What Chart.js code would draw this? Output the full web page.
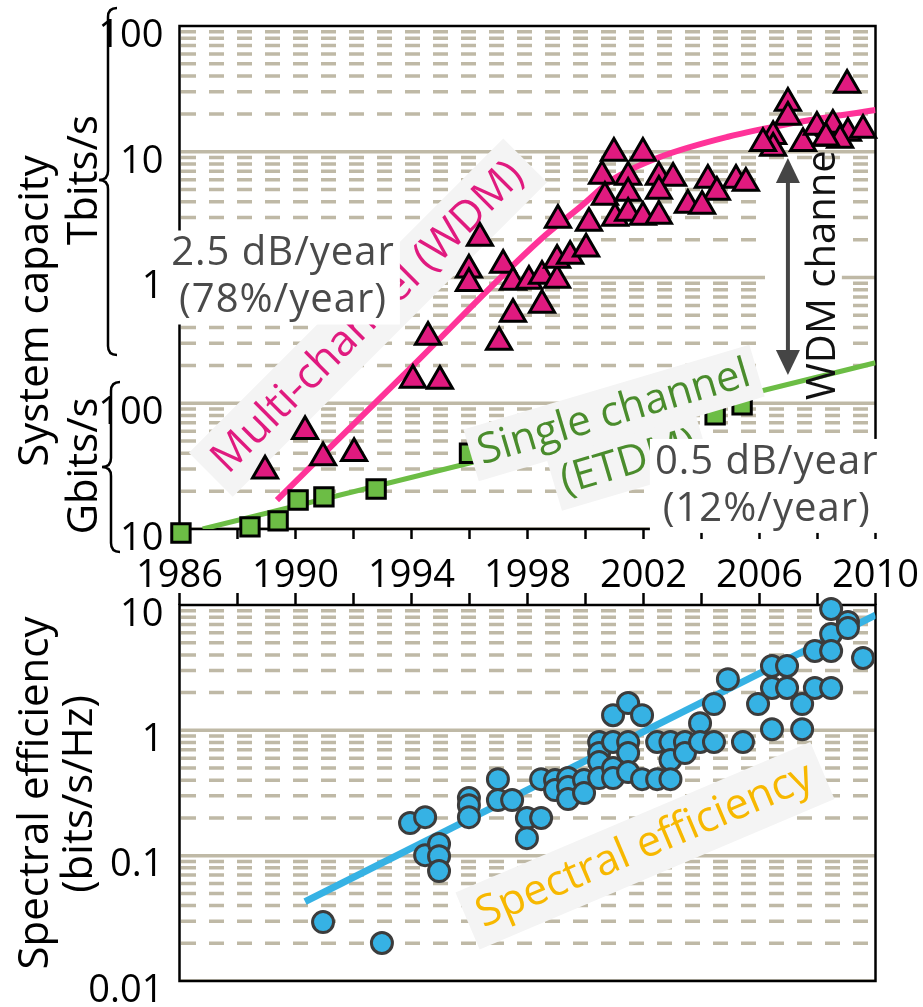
<!DOCTYPE html>
<html>
<head>
<meta charset="utf-8">
<title>Optical transmission capacity and spectral efficiency</title>
<script src="https://cdn.jsdelivr.net/npm/chart.js@4.4.0/dist/chart.umd.min.js"></script>
<style>
  html, body { margin: 0; padding: 0; background: #fff; }
  #wrap { position: relative; width: 923px; height: 1007px; overflow: hidden; }
  canvas { position: absolute; left: 0; }
  #capacity { top: 0; }
  #efficiency { top: 590px; }
</style>
</head>
<body>
<div id="wrap">
  <canvas id="capacity" width="923" height="600"></canvas>
  <canvas id="efficiency" width="923" height="417"></canvas>
</div>
<script>
// ---------- axes ----------
const yearMin = 1986, yearMax = 2010, yearStep = 2, yearLabelStep = 4;
const capacityTickValues = [10, 100, 1000, 10000, 100000];      // Gbit/s
const capacityTickLabels = ['10', '100', '1', '10', '100'];
const efficiencyTickValues = [0.01, 0.1, 1, 10];                // bit/s/Hz
const efficiencyTickLabels = ['0.01', '0.1', '1', '10'];

// ---------- multi-channel (WDM) experiments: year, Gbit/s ----------
const wdmYears = [1988.95, 1990.33, 1990.95, 1992.02, 1994.05, 1994.57, 1994.98, 1995.98, 1995.98, 1996.36,
  1997.02, 1997.16, 1997.5, 1997.5, 1998.05, 1998.5, 1998.5, 1999.02, 1999.02, 1999.47,
  2000.02, 1999.05, 2000.12, 2000.98, 2001.98, 2000.57, 2001.47, 2000.67, 2001.47, 2001.02,
  2001.47, 2001.98, 2002.53, 2003.02, 2002.53, 2002.53, 2004.22, 2004.53, 2003.53, 2004.02,
  2005.19, 2005.53, 2006.98, 2006.98, 2006.47, 2006.47, 2006.12, 2009.02, 2007.5, 2007.98,
  2008.53, 2009.05, 2009.57, 2008.78, 2008.29];
const wdmGbps = [29, 60, 37, 40, 153, 336, 150, 1150, 900, 2060,
  307, 1260, 513, 920, 940, 604, 1030, 955, 1380, 1480,
  1690, 2870, 2710, 9770, 9770, 6410, 6300, 4370, 4700, 2970,
  3260, 3030, 6300, 6180, 4880, 3080, 5960, 4790, 3780, 3710,
  5960, 5640, 24400, 18900, 13300, 10700, 11700, 34000, 11700, 15700,
  16300, 14100, 14900, 12400, 12900];

// ---------- single-channel (ETDM) experiments ----------
const etdmYears = [1986.05, 1988.43, 1989.4, 1990.09, 1990.98, 1992.78, 1996.0, 2004.47, 2005.4];
const etdmGbps = [9.3, 10.4, 11.6, 17, 18, 20.8, 40, 81, 97];

// ---------- trend curves ----------
const wdmTrendYears = [1989.36, 1994, 1998.43, 1999.81, 2000.95, 2002.57, 2004.88, 2007.15, 2010];
const wdmTrendGbps = [17, 194, 1990, 3630, 6030, 9080, 13100, 16900, 21500];
const etdmTrendYears = [1986.8, 2010];
const etdmTrendGbps = [10, 210];

// ---------- spectral efficiency: year, bit/s/Hz ----------
const seYears = [1990.95, 1992.98, 1993.95, 1994.47, 1994.47, 1994.95, 1994.95, 1994.95, 1995.98, 1995.98,
  1995.98, 1996.98, 1996.98, 1997.47, 1997.98, 1998.47, 1997.98, 1998.47, 1998.95, 1998.95,
  1999.4, 1999.4, 1999.4, 1999.95, 1999.95, 2000.47, 2000.47, 2000.47, 2000.47, 2000.95,
  2000.95, 2000.95, 2001.47, 2001.47, 2001.47, 2000.95, 2001.47, 2001.95, 2001.95, 2002.47,
  2002.47, 2002.93, 2002.93, 2002.93, 2003.43, 2003.43, 2003.95, 2003.95, 2004.43, 2004.43,
  2004.91, 2005.43, 2005.95, 2006.43, 2006.43, 2006.43, 2006.95, 2006.95, 2007.47, 2007.47,
  2007.91, 2007.91, 2008.47, 2008.47, 2008.47, 2008.47, 2009.05, 2009.05, 2009.57];
const seValues = [0.0295, 0.0201, 0.182, 0.203, 0.101, 0.124, 0.099, 0.0754, 0.288, 0.253,
  0.203, 0.408, 0.278, 0.278, 0.2, 0.2, 0.138, 0.408, 0.401, 0.334,
  0.416, 0.353, 0.283, 0.401, 0.316, 0.807, 0.659, 0.559, 0.416, 0.807,
  0.5, 0.416, 0.807, 0.659, 0.465, 1.32, 1.65, 1.32, 0.408, 0.807,
  0.408, 0.807, 0.58, 0.408, 0.807, 0.659, 1.14, 0.807, 0.807, 1.62,
  2.56, 0.807, 1.62, 3.26, 2.18, 1.02, 3.26, 2.18, 1.62, 1.02,
  4.3, 2.18, 9.3, 5.87, 4.3, 2.18, 7.32, 6.55, 3.78];
const seTrendYears = [1990.33, 2010];
const seTrendValues = [0.043, 8.3];

// ---------- annotation anchors (data coordinates) ----------
const wdmRateLabel = { year: 1989.57, value: 1000, lines: ['2.5 dB/year', '(78%/year)'] };
const etdmRateLabel = { year: 2006.25, value: 22, lines: ['0.5 dB/year', '(12%/year)'] };
const wdmCurveLabel = { year: 1992.5, value: 480, angle: -45, text: 'Multi-channel (WDM)' };
const etdmCurveLabel = { year: 2001.24, value: 53, angle: -16.5, lines: ['Single channel', '(ETDM)'] };
const channelArrow = { year: 2006.98, top: 8900, bottom: 168 };
const channelLabel = { year: 2008.6, value: 106, text: 'WDM channels' };
const channelPanel = { yearFrom: 2006.19, yearTo: 2008.84, top: 8590, bottom: 110 };
const seCurveLabel = { year: 2002.05, value: 0.12, angle: -23, text: 'Spectral efficiency' };

// ---------- styling ----------
const FONT = "'Open Sans', sans-serif";
const GRID = '#bfb9a6';
const MAGENTA = '#e01a7f';
const PINK_LINE = '#ff3399';
const GREEN = '#6cbd45';
const GREEN_TEXT = '#4a8c2c';
const BLUE = '#36b2e4';
const GOLD = '#f7b800';
const GREY_TEXT = '#4a4a4a';

Chart.defaults.font.family = FONT;
Chart.defaults.color = '#000';

const pts = (xs, ys) => xs.map((x, i) => ({ x, y: ys[i] }));

function drawLogGrid(chart) {
  const { ctx, chartArea: a, scales: { y } } = chart;
  ctx.save();
  ctx.beginPath();
  ctx.rect(a.left, a.top, a.right - a.left, a.bottom - a.top);
  ctx.clip();
  ctx.strokeStyle = GRID;
  ctx.lineWidth = 3.5;
  const lo = Math.round(Math.log10(y.min)), hi = Math.round(Math.log10(y.max));
  for (let e = lo; e < hi; e++) {
    for (let m = 1; m <= 9; m++) {
      const py = y.getPixelForValue(m * Math.pow(10, e));
      ctx.setLineDash(m === 1 ? [] : [15, 13]);
      ctx.beginPath();
      ctx.moveTo(a.left + 1.5, py);
      ctx.lineTo(a.right, py);
      ctx.stroke();
    }
  }
  ctx.restore();
}

function drawFrame(chart) {
  const { ctx, chartArea: a } = chart;
  ctx.save();
  ctx.strokeStyle = '#000';
  ctx.lineWidth = 2.5;
  ctx.strokeRect(a.left, a.top, a.right - a.left, a.bottom - a.top);
  ctx.restore();
}

// Text block, optionally rotated, with a background box (one per line or one for the block)
function boxedText(ctx, lines, cx, cy, opt) {
  ctx.save();
  ctx.translate(cx, cy);
  ctx.rotate((opt.angle || 0) * Math.PI / 180);
  ctx.font = opt.font;
  if (opt.spacing) ctx.letterSpacing = opt.spacing;
  ctx.textAlign = 'center';
  ctx.textBaseline = 'middle';
  const gap = opt.gap || 0;
  const h0 = -gap * (lines.length - 1) / 2;
  const widths = lines.map(t => ctx.measureText(t).width);
  const [px, py] = opt.pad;
  if (opt.bg) {
    ctx.fillStyle = opt.bg;
    if (opt.perLine) {
      lines.forEach((t, i) => {
        const w = widths[i];
        ctx.fillRect(-w / 2 - px, h0 + gap * i - opt.lineBox / 2 - py, w + 2 * px, opt.lineBox + 2 * py);
      });
    } else {
      const w = Math.max(...widths);
      const h = gap * lines.length;
      ctx.fillRect(-w / 2 - px, -h / 2 - py, w + 2 * px, h + 2 * py);
    }
  }
  ctx.fillStyle = opt.color;
  lines.forEach((t, i) => ctx.fillText(t, 0, h0 + gap * i));
  ctx.restore();
}

function brace(ctx, x, top, mid, bottom) {
  const r = 9;
  ctx.beginPath();
  ctx.moveTo(x + r, top);
  ctx.quadraticCurveTo(x, top, x, top + r);
  ctx.lineTo(x, mid - r);
  ctx.quadraticCurveTo(x, mid, x - r, mid);
  ctx.quadraticCurveTo(x, mid, x, mid + r);
  ctx.lineTo(x, bottom - r);
  ctx.quadraticCurveTo(x, bottom, x + r, bottom);
  ctx.stroke();
}

function verticalText(ctx, text, cx, cy, font) {
  ctx.save();
  ctx.translate(cx, cy);
  ctx.rotate(-Math.PI / 2);
  ctx.font = font;
  ctx.fillStyle = '#000';
  ctx.textAlign = 'center';
  ctx.textBaseline = 'middle';
  ctx.fillText(text, 0, 0);
  ctx.restore();
}

function doubleArrow(ctx, x, yTop, yBot) {
  const head = 25, half = 12;
  ctx.save();
  ctx.strokeStyle = ctx.fillStyle = '#454545';
  ctx.lineWidth = 4;
  ctx.beginPath();
  ctx.moveTo(x, yTop + head - 2);
  ctx.lineTo(x, yBot - head + 2);
  ctx.stroke();
  ctx.beginPath();
  ctx.moveTo(x, yTop); ctx.lineTo(x - half, yTop + head); ctx.lineTo(x + half, yTop + head);
  ctx.closePath(); ctx.fill();
  ctx.beginPath();
  ctx.moveTo(x, yBot); ctx.lineTo(x - half, yBot - head); ctx.lineTo(x + half, yBot - head);
  ctx.closePath(); ctx.fill();
  ctx.restore();
}

const capacityDecor = {
  id: 'capacityDecor',
  beforeDatasetsDraw(chart) {
    drawLogGrid(chart);
    drawFrame(chart);
    const { ctx, scales: { x, y } } = chart;
    const x0 = x.getPixelForValue(channelPanel.yearFrom), x1 = x.getPixelForValue(channelPanel.yearTo);
    const y0 = y.getPixelForValue(channelPanel.top), y1 = y.getPixelForValue(channelPanel.bottom);
    ctx.save();
    ctx.fillStyle = '#fff';
    ctx.fillRect(x0, y0, x1 - x0, y1 - y0);
    ctx.restore();
  },
  afterDatasetDraw(chart, args) {
    if (args.index !== 1) return;
    const { ctx, scales: { x, y } } = chart;
    // arrow spanning the gap between the two trends
    doubleArrow(ctx, x.getPixelForValue(channelArrow.year),
      y.getPixelForValue(channelArrow.top), y.getPixelForValue(channelArrow.bottom));
    ctx.save();
    ctx.translate(x.getPixelForValue(channelLabel.year), y.getPixelForValue(channelLabel.value));
    ctx.rotate(-Math.PI / 2);
    ctx.font = `40px ${FONT}`;
    ctx.fillStyle = '#111';
    ctx.textAlign = 'left';
    ctx.textBaseline = 'alphabetic';
    ctx.fillText(channelLabel.text, 0, 0);
    ctx.restore();
    boxedText(ctx, [wdmCurveLabel.text],
      x.getPixelForValue(wdmCurveLabel.year), y.getPixelForValue(wdmCurveLabel.value),
      { angle: wdmCurveLabel.angle, font: `43px ${FONT}`, color: MAGENTA, bg: '#f4f4f4',
        pad: [12, 5], gap: 0, perLine: true, lineBox: 52 });
  },
  afterDatasetsDraw(chart) {
    const { ctx, scales: { x, y } } = chart;
    boxedText(ctx, etdmCurveLabel.lines,
      x.getPixelForValue(etdmCurveLabel.year), y.getPixelForValue(etdmCurveLabel.value),
      { angle: etdmCurveLabel.angle, font: `42px ${FONT}`, color: GREEN_TEXT, bg: '#f4f4f4',
        pad: [8, 2], gap: 52, perLine: true, lineBox: 50 });
    boxedText(ctx, etdmRateLabel.lines,
      x.getPixelForValue(etdmRateLabel.year), y.getPixelForValue(etdmRateLabel.value),
      { font: `40px ${FONT}`, spacing: '1px', color: GREY_TEXT, bg: '#fff', pad: [5, 0], gap: 47 });
    boxedText(ctx, wdmRateLabel.lines,
      x.getPixelForValue(wdmRateLabel.year), y.getPixelForValue(wdmRateLabel.value),
      { font: `40px ${FONT}`, spacing: '1px', color: GREY_TEXT, bg: '#fff', pad: [5, 0], gap: 47 });
  },
  afterDraw(chart) {
    const ctx = chart.ctx;
    ctx.save();
    ctx.strokeStyle = '#000';
    ctx.lineWidth = 2.5;
    brace(ctx, 108, 8, 180, 355);
    brace(ctx, 111, 382, 467, 552);
    ctx.restore();
    verticalText(ctx, 'System capacity', 36, 311, `42px ${FONT}`);
    verticalText(ctx, 'Tbits/s', 85, 180, `42px ${FONT}`);
    verticalText(ctx, 'Gbits/s', 85, 466, `42px ${FONT}`);
  }
};

const efficiencyDecor = {
  id: 'efficiencyDecor',
  beforeDatasetsDraw(chart) {
    drawLogGrid(chart);
    drawFrame(chart);
  },
  afterDatasetsDraw(chart) {
    const { ctx, scales: { x, y } } = chart;
    boxedText(ctx, [seCurveLabel.text],
      x.getPixelForValue(seCurveLabel.year), y.getPixelForValue(seCurveLabel.value),
      { angle: seCurveLabel.angle, font: `43px ${FONT}`, color: GOLD, bg: '#f4f4f4',
        pad: [12, 5], gap: 0, perLine: true, lineBox: 52 });
  },
  afterDraw(chart) {
    const ctx = chart.ctx;
    verticalText(ctx, 'Spectral efficiency', 36, 203, `42px ${FONT}`);
    verticalText(ctx, '(bits/s/Hz)', 80, 204, `42px ${FONT}`);
  }
};

// Scale boxes are sized exactly so the plot areas line up between the two charts
function noScalePadding(s) {
  s.paddingTop = 0; s.paddingBottom = 0; s.paddingLeft = 0; s.paddingRight = 0;
}

function yearAxis(position, showLabels, height, tickLength) {
  return {
    type: 'linear', position, min: yearMin, max: yearMax,
    afterFit: s => { s.height = height; noScalePadding(s); },
    grid: { display: true, drawOnChartArea: false, drawTicks: true, tickLength,
            tickColor: '#000', tickWidth: 2.5 },
    border: { display: false },
    ticks: {
      display: showLabels, stepSize: yearStep, autoSkip: false, maxRotation: 0, minRotation: 0,
      padding: 14, font: { size: 38 }, color: '#000',
      callback: v => ((v - yearMin) % yearLabelStep === 0 ? String(v) : '')
    }
  };
}

function logAxis(min, max, values, labels) {
  return {
    type: 'logarithmic', min, max,
    afterFit: s => { s.width = 179.5; noScalePadding(s); },
    afterBuildTicks: s => { s.ticks = values.map(v => ({ value: v })); },
    grid: { display: false, drawTicks: false },
    border: { display: false },
    ticks: {
      padding: 16, labelOffset: 10, font: { size: 38 }, color: '#000',
      callback: v => labels[values.indexOf(v)] ?? ''
    }
  };
}

const common = {
  responsive: false,
  animation: false,
  events: [],
  plugins: { legend: { display: false }, tooltip: { enabled: false } }
};

function build() {
  new Chart(document.getElementById('capacity'), {
    type: 'scatter',
    data: {
      datasets: [
        { type: 'line', data: pts(wdmTrendYears, wdmTrendGbps), borderColor: PINK_LINE, borderWidth: 6,
          pointRadius: 0, cubicInterpolationMode: 'monotone', fill: false, order: 4 },
        { type: 'line', data: pts(etdmTrendYears, etdmTrendGbps), borderColor: GREEN, borderWidth: 5,
          pointRadius: 0, fill: false, order: 3 },
        { data: pts(wdmYears, wdmGbps), pointStyle: 'triangle', pointRadius: 14.5,
          backgroundColor: MAGENTA, borderColor: '#000', borderWidth: 3, clip: false, order: 2 },
        { data: pts(etdmYears, etdmGbps), pointStyle: 'rect', pointRadius: 13,
          backgroundColor: GREEN, borderColor: '#000', borderWidth: 3, clip: false, order: 1 }
      ]
    },
    options: {
      ...common,
      layout: { padding: { left: 0, right: 47.5, top: 26, bottom: 0 } },
      scales: {
        x: yearAxis('bottom', true, 71, 10),
        y: logAxis(10, 100000, capacityTickValues, capacityTickLabels)
      }
    },
    plugins: [capacityDecor]
  });

  new Chart(document.getElementById('efficiency'), {
    type: 'scatter',
    data: {
      datasets: [
        { type: 'line', data: pts(seTrendYears, seTrendValues), borderColor: BLUE, borderWidth: 7,
          pointRadius: 0, fill: false, order: 2 },
        { data: pts(seYears, seValues), pointStyle: 'circle', pointRadius: 10.5,
          backgroundColor: BLUE, borderColor: '#3c3c3c', borderWidth: 3, clip: false, order: 1 }
      ]
    },
    options: {
      ...common,
      layout: { padding: { left: 0, right: 47.5, top: 0, bottom: 26 } },
      scales: {
        x: yearAxis('top', false, 15, 12),
        y: logAxis(0.01, 10, efficiencyTickValues, efficiencyTickLabels)
      }
    },
    plugins: [efficiencyDecor]
  });
}

document.fonts.load(`40px ${FONT}`).then(build, build);
</script>
</body>
</html>
